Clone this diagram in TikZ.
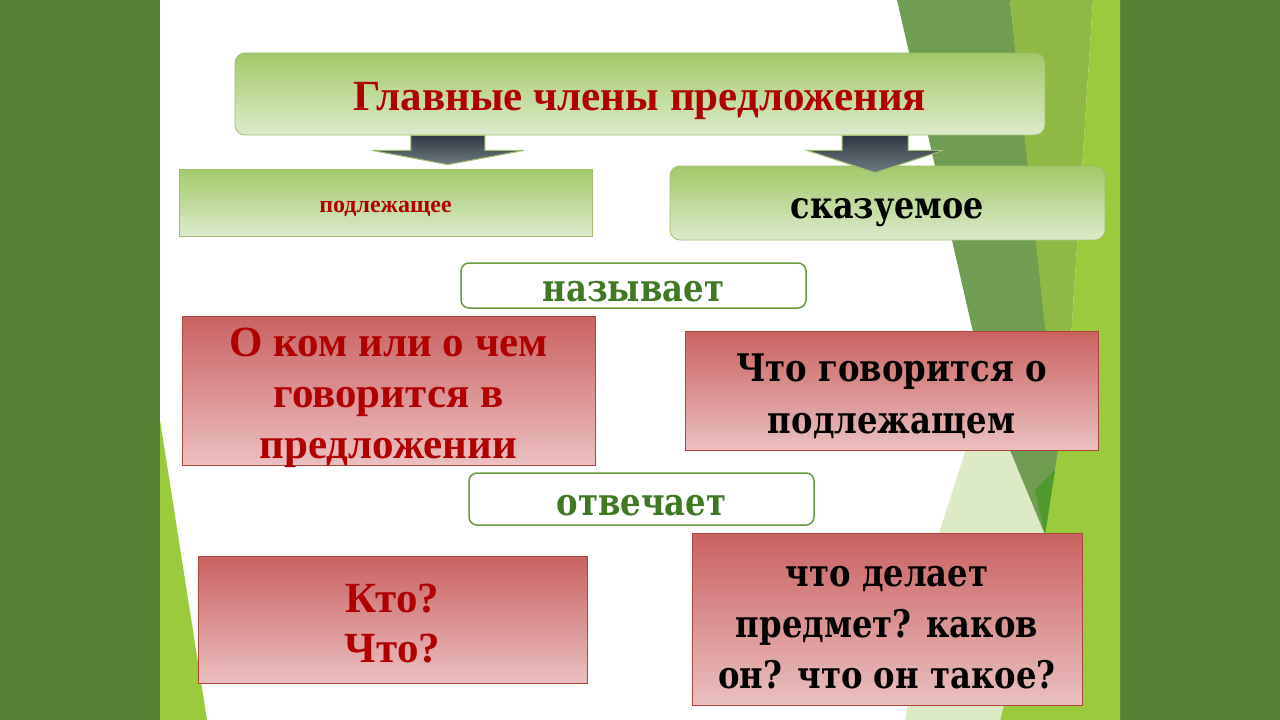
\documentclass[tikz,border=0pt]{standalone}
\usepackage{fontspec}
\setmainfont{Liberation Serif}
\newfontfamily\dejavu[FakeStretch=0.85]{DejaVu Serif}
\usetikzlibrary{calc}
\usetikzlibrary{positioning}

\definecolor{sidegreen}{HTML}{548235}
\definecolor{midgreen}{HTML}{6F9D52}
\definecolor{litgreen}{HTML}{8DB944}
\definecolor{brightgreen}{HTML}{9ACB3C}
\definecolor{palegreen}{HTML}{DCEBC4}
\definecolor{deepgreen}{HTML}{4E9A2E}
\definecolor{boxtop}{HTML}{A2C96A}
\definecolor{boxbot}{HTML}{DCEBCB}
\definecolor{boxedge}{HTML}{9DBF6B}
\definecolor{redtop}{HTML}{C96260}
\definecolor{redbot}{HTML}{EBC0C0}
\definecolor{rededge}{HTML}{B0443A}
\definecolor{darkred}{HTML}{B00000}
\definecolor{labelgreen}{HTML}{3F7A22}
\definecolor{tagedge}{HTML}{679A3C}
\definecolor{arrowtop}{HTML}{2E3842}
\definecolor{arrowbot}{HTML}{6E7A82}

% block arrow: #1 from, #2 tip, #3 shaft half width, #4 head half width, #5 shaft length
\newcommand{\bigarrow}[5]{%
  \draw[blockarrow] ($(#1)+(-#3,0)$) -- ($(#1)+(#3,0)$) -- ($(#1)+(#3,#5)$)
    -- ($(#1)+(#4,#5)$) -- (#2) -- ($(#1)+(-#4,#5)$) -- ($(#1)+(-#3,#5)$) -- cycle;}

\begin{document}
\begin{tikzpicture}[x=1pt,y=-1pt,
		greenbox/.style={rectangle,draw=boxedge,line width=0.8pt,top color=boxtop,bottom color=boxbot,inner sep=0pt},
		redbox/.style={rectangle,draw=rededge,line width=0.8pt,top color=redtop,bottom color=redbot,inner sep=0pt},
		tagbox/.style={rectangle,rounded corners=8pt,draw=tagedge,line width=1.5pt,fill=white,inner sep=0pt,minimum width=345pt},
		redtext/.style={align=center,text=darkred,font=\bfseries\fontsize{43}{51}\selectfont},
		blacktext/.style={align=center,font=\dejavu\bfseries\fontsize{38}{52}\selectfont},
		tagtext/.style={text=labelgreen,font=\dejavu\bfseries\fontsize{38}{38}\selectfont},
		blockarrow/.style={draw=boxedge,line width=1pt,top color=arrowtop,bottom color=arrowbot}]
		\useasboundingbox (0,0) rectangle (1280,720);
		
		% slide and side bars
		\fill[white] (160,0) rectangle (1120,720);
		\fill[sidegreen] (0,0) rectangle (160,720);
		\fill[sidegreen] (1120,0) rectangle (1280,720);
		
		% green decoration
		\fill[midgreen] (897,0) -- (1010,0) -- (1060,450) -- (1045,535) -- (1000,450) -- cycle;
		\fill[litgreen] (1010,0) -- (1093,0) -- (1067,400) -- (1058,450) -- cycle;
		\fill[brightgreen] (1093,0) -- (1120,0) -- (1120,720) -- (1000,720) -- (1045,535)
			-- (1058,450) -- (1067,400) -- cycle;
		\fill[palegreen] (985,390) -- (1045,535) -- (1000,720) -- (905,720) -- (940,530) -- cycle;
		\fill[deepgreen] (1035,490) -- (1055,470) -- (1045,535) -- cycle;
		\fill[brightgreen] (160,420) -- (207,720) -- (160,720) -- cycle;
		
		% boxes
		\node[greenbox,rounded corners=10pt,minimum width=810pt,minimum height=82pt] (title) at (640,94) {};
		\node[greenbox,minimum width=413pt,minimum height=67pt] (subj) at (385.5,202.5) {};
		\node[greenbox,rounded corners=10pt,minimum width=435pt,minimum height=74pt] (pred) at (887.5,203) {};
		\node[tagbox,minimum height=45pt] (names) at (633.5,285.5) {};
		\node[redbox,minimum width=413pt,minimum height=149pt] (aboutL) at (388.5,390.5) {};
		\node[redbox,minimum width=413pt,minimum height=119pt] (aboutR) at (891.5,390.5) {};
		\node[tagbox,minimum height=52pt] (answers) at (641.5,499) {};
		\node[redbox,minimum width=389pt,minimum height=127pt] (askL) at (392.5,619.5) {};
		\node[redbox,minimum width=390pt,minimum height=172pt] (askR) at (887,619) {};
		
		% texts
		\node[text=darkred,font=\bfseries\fontsize{43}{43}\selectfont] (titletext) at ([yshift=-7pt]title.center)
			{Главные члены предложения};
		\node[text=darkred,font=\bfseries\fontsize{24}{24}\selectfont] (subjtext) at ([yshift=-6pt]subj.center)
			{подлежащее};
		\node[font=\dejavu\bfseries\fontsize{37.5}{38}\selectfont] (predtext) at ([yshift=-10pt]pred.center)
			{сказуемое};
		\node[tagtext] (namestext) at ([yshift=-6pt]names.center) {называет};
		\node[redtext] (aboutLtext) at ([yshift=-7pt]aboutL.center) {О ком или о чем\\говорится в\\предложении};
		\node[blacktext] (aboutRtext) at ([yshift=-6pt]aboutR.center) {Что говорится о\\подлежащем};
		\node[tagtext] (answerstext) at ([yshift=-7pt]answers.center) {отвечает};
		\node[redtext,font=\bfseries\fontsize{43}{50}\selectfont] (askLtext) at ([yshift=-4pt]askL.center) {Кто?\\Что?};
		\node[blacktext,font=\dejavu\bfseries\fontsize{38}{51}\selectfont] (askRtext) at ([yshift=-9pt]askR.center)
			{что делает\\предмет? каков\\он? что он такое?};
		
		% arrows from the title
		\coordinate (lfrom) at ($(title.south west)!0.263!(title.south east)$);
		\coordinate (lto) at ($(lfrom |- subj.north)+(0,-4)$);
		\coordinate (rfrom) at ($(title.south west)!0.79!(title.south east)$);
		\coordinate (rto) at ($(rfrom |- pred.north)+(0,7)$);
		\bigarrow{lfrom}{lto}{37}{76}{15}
		\bigarrow{rfrom}{rto}{33}{68}{15}
		
		\end{tikzpicture}
\end{document}
